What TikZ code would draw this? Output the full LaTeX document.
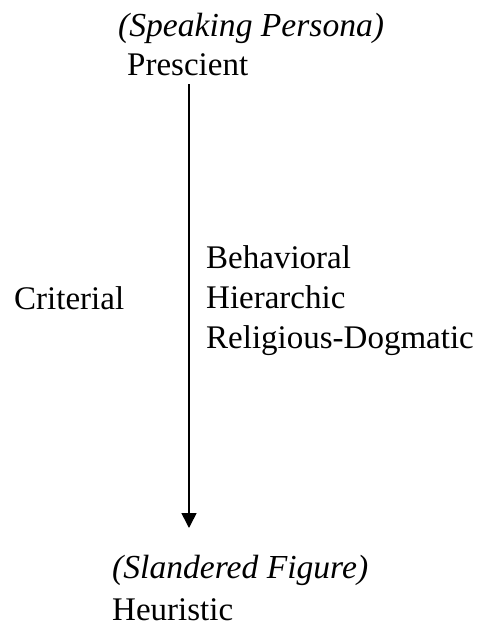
\documentclass[tikz,border=0pt]{standalone}
\usepackage{fontspec}
\setmainfont{Liberation Serif}
\usetikzlibrary{arrows.meta}
\tikzset{
	lbl/.style={anchor=base west, inner sep=0pt, font=\fontsize{33}{39}\selectfont},
	role/.style={lbl, font=\fontsize{33.6}{39}\selectfont\itshape}
}
\begin{document}
\begin{tikzpicture}[x=1pt, y=-1pt]
		\useasboundingbox (0,0) rectangle (482,627);
		\begin{scope}
			\node[role] (speaker) at (118,36) {(Speaking Persona)};
			\node[lbl]  (prescient) at (127,75) {Prescient};

			\node[lbl] (criterial) at (14,309) {Criterial};
			\foreach \y/\name/\txt in {268/behav/Behavioral, 308/hier/Hierarchic, 348/relig/Religious-Dogmatic} {
				\node[lbl] (\name) at (206,\y) {\txt};
			}

			\node[role] (slandered) at (112,578) {(Slandered Figure)};
			\node[lbl]  (heuristic) at (112,620) {Heuristic};

			\coordinate (top) at (189,84);
			\coordinate (tip) at (189,528);
			\draw[line width=1.6pt, -{Triangle[width=15pt, length=15pt]}] (top) -- (tip);
		\end{scope}
	\end{tikzpicture}
\end{document}
